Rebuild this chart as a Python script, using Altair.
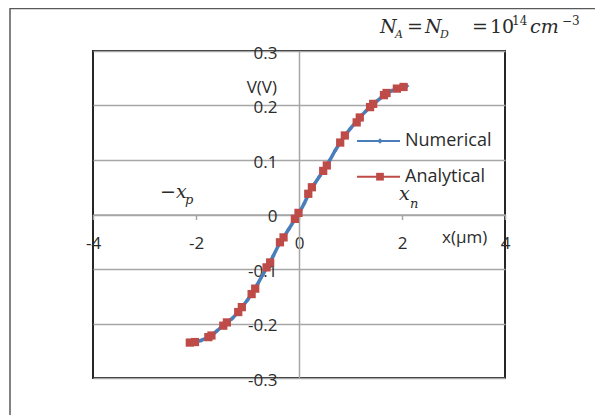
import altair as alt
import pandas as pd

# ---- data ----
num_x = [-2.1, -2.0, -1.9, -1.8, -1.7, -1.6, -1.5, -1.4, -1.3, -1.2, -1.1, -1.0,
         -0.9, -0.8, -0.7, -0.6, -0.5, -0.4, -0.3, -0.2, -0.1, 0.0,
         0.1, 0.2, 0.3, 0.4, 0.5, 0.6, 0.7, 0.8, 0.9, 1.0, 1.1, 1.2, 1.3, 1.4,
         1.5, 1.6, 1.7, 1.8, 1.9, 2.0, 2.1]
num_v = [-0.235, -0.234, -0.231, -0.227, -0.222, -0.214, -0.206, -0.198, -0.191, -0.181, -0.169, -0.157,
         -0.143, -0.127, -0.110, -0.094, -0.076, -0.057, -0.042, -0.027, -0.012, 0.002,
         0.020, 0.040, 0.056, 0.070, 0.085, 0.100, 0.117, 0.132, 0.146, 0.158, 0.169, 0.180, 0.190, 0.199,
         0.207, 0.215, 0.222, 0.227, 0.231, 0.234, 0.236]

ana_x = [-2.12, -2.02, -1.76, -1.70, -1.47, -1.40, -1.18, -1.11, -0.92, -0.85, -0.63, -0.56,
         -0.37, -0.30, -0.08, -0.01, 0.18, 0.25, 0.47, 0.54, 0.80, 0.89, 1.12, 1.18,
         1.38, 1.44, 1.65, 1.70, 1.90, 2.03]
ana_v = [-0.235, -0.234, -0.225, -0.222, -0.204, -0.198, -0.179, -0.170, -0.146, -0.136, -0.097, -0.088,
         -0.051, -0.042, -0.008, 0.003, 0.038, 0.050, 0.080, 0.090, 0.132, 0.145, 0.169, 0.178,
         0.197, 0.203, 0.219, 0.223, 0.231, 0.234]

series_names = ["Numerical", "Analytical"]
series_colors = ["#4A7EBB", "#BE4B48"]

x_ticks = [-4, -2, 0, 2, 4]
y_ticks = [-0.3, -0.2, -0.1, 0.0, 0.1, 0.2, 0.3]
x_title = "x(\u00b5m)"
y_title = "V(V)"

num_df = pd.DataFrame({"x": num_x, "v": num_v})
ana_df = pd.DataFrame({"x": ana_x, "v": ana_v})
one = pd.DataFrame({"k": [0]})

SANS = "Open Sans"
SERIF = "DejaVu Serif"
TXT = "#2b2b2b"
GRID = "#a6a6a6"
HYPHEN = "datum.value < 0 ? '-' + format(-datum.value, '~g') : format(datum.value, '~g')"

xs = alt.Scale(domain=[-4, 4], nice=False, zero=False)
ys = alt.Scale(domain=[-0.3, 0.3], nice=False, zero=False)

x_enc = alt.X("x:Q", scale=xs, title=None,
              axis=alt.Axis(values=x_ticks, orient="bottom", offset=-163.5, grid=False,
                            domainColor=GRID, domainWidth=1.5, tickColor=GRID, tickWidth=1.5,
                            tickSize=5, labelPadding=16, labelFlush=False, labelFont=SANS,
                            labelFontSize=17, labelColor=TXT, labelExpr=HYPHEN))
y_enc = alt.Y("v:Q", scale=ys, title=None,
              axis=alt.Axis(values=y_ticks, orient="left", offset=-206, grid=True,
                            gridColor=GRID, gridWidth=1.5, domainColor=GRID, domainWidth=1.5,
                            ticks=False, labelPadding=22, labelOffset=2, labelFont=SANS,
                            labelFontSize=17, labelColor=TXT, labelExpr=HYPHEN))

frame = alt.Chart(one).mark_rect(fill="transparent", stroke="#595959", strokeWidth=1.5).encode(
    x=alt.value(-83), x2=alt.value(505), y=alt.value(-42.5), y2=alt.value(400))

num_line = alt.Chart(num_df).mark_line(color=series_colors[0], strokeWidth=3.5).encode(x=x_enc, y=y_enc)
num_pts = alt.Chart(num_df).mark_point(shape="diamond", filled=True, size=20, opacity=1,
                                       color=series_colors[0]).encode(x="x:Q", y="v:Q")
ana_pts = alt.Chart(ana_df).mark_square(size=68, opacity=1, color=series_colors[1]).encode(x="x:Q", y="v:Q")


def txt(s, px, py, size=17, font=SANS, style="normal", align="left", baseline="middle"):
    return alt.Chart(one).mark_text(text=s, font=font, fontSize=size, fontStyle=style,
                                    align=align, baseline=baseline, color=TXT).encode(
        x=alt.value(px), y=alt.value(py))


layers = [frame, num_line, num_pts, ana_pts]

# legend
for i, (name, col) in enumerate(zip(series_names, series_colors)):
    ly = 90 + i * 35.7
    layers.append(alt.Chart(one).mark_rule(color=col, strokeWidth=2).encode(
        x=alt.value(264), x2=alt.value(307), y=alt.value(ly)))
    if i == 0:
        layers.append(alt.Chart(one).mark_point(shape="diamond", filled=True, size=30, opacity=1,
                                                color=col).encode(x=alt.value(287), y=alt.value(ly)))
    else:
        layers.append(alt.Chart(one).mark_square(size=60, opacity=1, color=col).encode(
            x=alt.value(287), y=alt.value(ly)))
    layers.append(txt(name, 312, ly, size=18))

# axis titles
layers.append(txt(y_title, 184, 37, size=17, align="right"))
layers.append(txt(x_title, 349, 187, size=17))

# annotations -x_p and x_n
layers.append(txt("\u2212x", 67, 147, size=19, font=SERIF, style="italic", baseline="alphabetic"))
layers.append(txt("p", 92, 153, size=13, font=SERIF, style="italic", baseline="alphabetic"))
layers.append(txt("x", 306, 149, size=19, font=SERIF, style="italic", baseline="alphabetic"))
layers.append(txt("n", 317, 157, size=13, font=SERIF, style="italic", baseline="alphabetic"))

# title N_A = N_D = 10^14 cm^-3
title_parts = [
    ("N", 287, -18, 19, "italic"), ("A", 302, -13, 11, "italic"),
    ("=", 314, -18, 19, "normal"),
    ("N", 332, -18, 19, "italic"), ("D", 347, -13, 11, "italic"),
    ("=", 379, -18, 19, "normal"),
    ("10", 397, -18, 19, "normal"), ("14", 419, -26, 12, "normal"),
    ("cm", 437, -18, 19, "italic"), ("\u22123", 469, -26, 12, "normal"),
]
for s, px, py, sz, st in title_parts:
    layers.append(txt(s, px, py, size=sz, font=SERIF, style=st, baseline="alphabetic"))

chart = alt.layer(*layers).properties(
    width=412, height=327,
    padding={"left": 85, "top": 43, "right": 90, "bottom": 37},
    autosize=alt.AutoSizeParams(type="none"),
    background="white",
).configure_view(stroke="#262626", strokeWidth=2)

chart.save("out.html", embed_options={"renderer": "svg", "actions": False})
